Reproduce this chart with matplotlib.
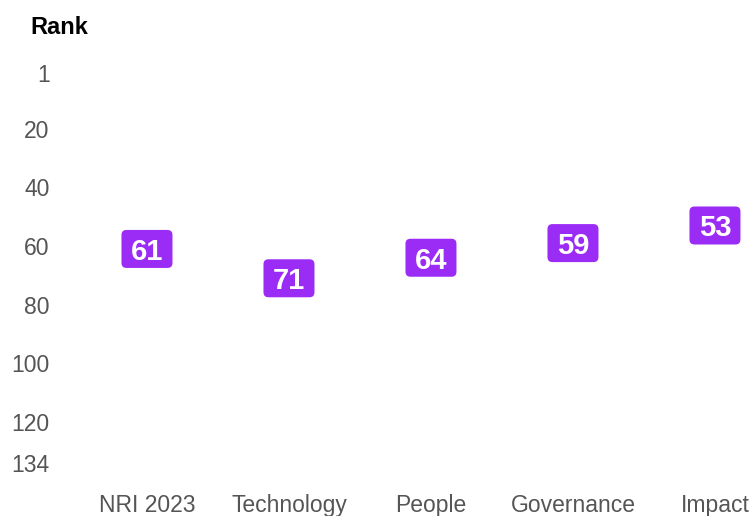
import matplotlib.pyplot as plt
from matplotlib.patches import FancyBboxPatch
from matplotlib.transforms import ScaledTranslation

plt.rcParams["font.family"] = ["Liberation Sans", "DejaVu Sans"]

# Ranks per pillar (lower is better)
pillars = ["NRI 2023", "Technology", "People", "Governance", "Impact"]
ranks = [61, 71, 64, 59, 53]
rank_ticks = [1, 20, 40, 60, 80, 100, 120, 134]

PURPLE = "#9B2CF6"
TICK_GREY = "#555555"

fig = plt.figure(figsize=(7.53, 5.16), dpi=100)
ax = fig.add_axes([0.1009, 0.0686, 0.8863, 0.824])
ax.set_xlim(-0.5, 4.2)
ax.set_ylim(140, -5)

# rank badges: fixed-size rounded boxes (inches) centred on each data point
box_w, box_h, corner = 0.51, 0.38, 0.05
x = list(range(len(pillars)))
for xi, r in zip(x, ranks):
    anchor = fig.dpi_scale_trans + ScaledTranslation(xi, r, ax.transData)
    badge = FancyBboxPatch(
        (-box_w / 2 + corner, -box_h / 2 + corner),
        box_w - 2 * corner, box_h - 2 * corner,
        boxstyle=f"round,pad={corner}",
        fc=PURPLE, ec="none", transform=anchor,
    )
    ax.add_patch(badge)
    ax.text(xi, r, str(r), ha="center", va="center_baseline",
            fontsize=21, fontweight="bold", color="white")

ax.set_xticks(x)
ax.set_xticklabels(pillars)
ax.set_yticks(rank_ticks)
ax.set_yticklabels([str(t) for t in rank_ticks])

ax.tick_params(axis="both", length=0, labelsize=16.5, labelcolor=TICK_GREY)
ax.tick_params(axis="y", pad=19)
ax.tick_params(axis="x", pad=10)
for spine in ax.spines.values():
    spine.set_visible(False)

fig.text(30 / 753, 1 - 27 / 516, "Rank", ha="left", va="center",
         fontsize=17, fontweight="bold", color="black")

fig.savefig("out.png", dpi=100)
